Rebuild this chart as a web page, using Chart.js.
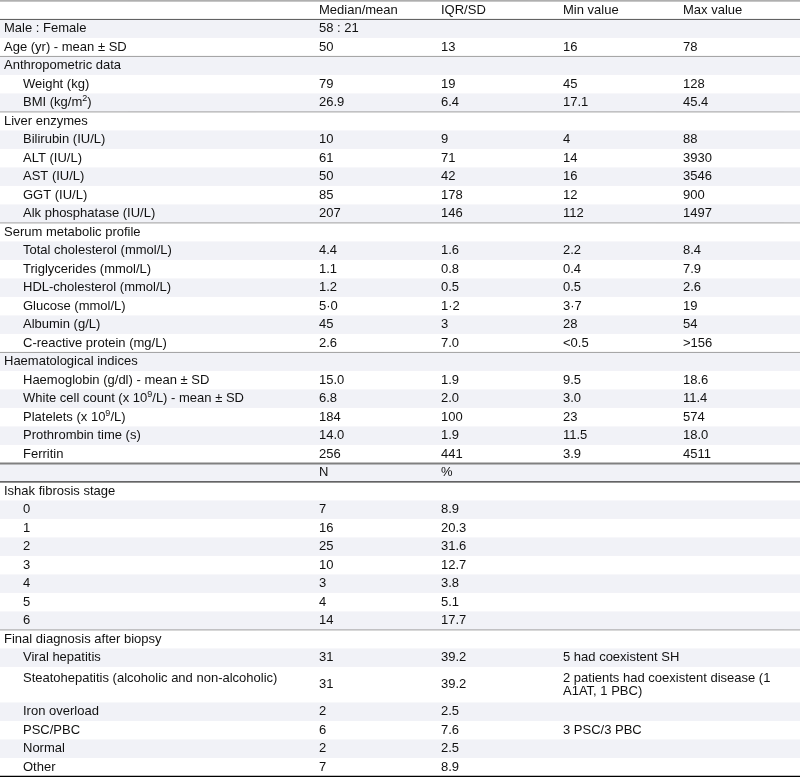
<!DOCTYPE html>
<html><head><meta charset="utf-8">
<script src="https://cdn.jsdelivr.net/npm/chart.js@4.4.1/dist/chart.umd.min.js"></script>
<style>html,body{margin:0;padding:0;background:#fff}#c{display:block}</style>
</head><body>
<canvas id="c" width="800" height="777"></canvas>
<script>
// ---------- DATA ----------
const rowLabels = [
  '', 'Male : Female', 'Age (yr) - mean ± SD',
  'Anthropometric data', 'Weight (kg)', 'BMI (kg/m^2)',
  'Liver enzymes', 'Bilirubin (IU/L)', 'ALT (IU/L)', 'AST (IU/L)', 'GGT (IU/L)', 'Alk phosphatase (IU/L)',
  'Serum metabolic profile', 'Total cholesterol (mmol/L)', 'Triglycerides (mmol/L)', 'HDL-cholesterol (mmol/L)',
  'Glucose (mmol/L)', 'Albumin (g/L)', 'C-reactive protein (mg/L)',
  'Haematological indices', 'Haemoglobin (g/dl) - mean ± SD', 'White cell count (x 10^9/L) - mean ± SD',
  'Platelets (x 10^9/L)', 'Prothrombin time (s)', 'Ferritin',
  '', 'Ishak fibrosis stage', '0', '1', '2', '3', '4', '5', '6',
  'Final diagnosis after biopsy', 'Viral hepatitis', 'Steatohepatitis (alcoholic and non-alcoholic)',
  'Iron overload', 'PSC/PBC', 'Normal', 'Other'
];
const rowKinds = [
  'head', 'top', 'top',
  'sec', 'item', 'item',
  'sec', 'item', 'item', 'item', 'item', 'item',
  'sec', 'item', 'item', 'item', 'item', 'item', 'item',
  'sec', 'item', 'item', 'item', 'item', 'item',
  'head', 'sec', 'item', 'item', 'item', 'item', 'item', 'item', 'item',
  'sec', 'item', 'item', 'item', 'item', 'item', 'item'
];
const colMedian = [
  'Median/mean', '58 : 21', '50',
  '', '79', '26.9',
  '', '10', '61', '50', '85', '207',
  '', '4.4', '1.1', '1.2', '5·0', '45', '2.6',
  '', '15.0', '6.8', '184', '14.0', '256',
  'N', '', '7', '16', '25', '10', '3', '4', '14',
  '', '31', '31', '2', '6', '2', '7'
];
const colIQR = [
  'IQR/SD', '', '13',
  '', '19', '6.4',
  '', '9', '71', '42', '178', '146',
  '', '1.6', '0.8', '0.5', '1·2', '3', '7.0',
  '', '1.9', '2.0', '100', '1.9', '441',
  '%', '', '8.9', '20.3', '31.6', '12.7', '3.8', '5.1', '17.7',
  '', '39.2', '39.2', '2.5', '7.6', '2.5', '8.9'
];
const colMin = [
  'Min value', '', '16',
  '', '45', '17.1',
  '', '4', '14', '16', '12', '112',
  '', '2.2', '0.4', '0.5', '3·7', '28', '<0.5',
  '', '9.5', '3.0', '23', '11.5', '3.9',
  '', '', '', '', '', '', '', '', '',
  '', '5 had coexistent SH', '2 patients had coexistent disease (1\nA1AT, 1 PBC)', '', '3 PSC/3 PBC', '', ''
];
const colMax = [
  'Max value', '', '78',
  '', '128', '45.4',
  '', '88', '3930', '3546', '900', '1497',
  '', '8.4', '7.9', '2.6', '19', '54', '>156',
  '', '18.6', '11.4', '574', '18.0', '4511',
  '', '', '', '', '', '', '', '', '',
  '', '', '', '', '', '', ''
];

// ---------- LAYOUT ----------
const COL_X = [4, 319, 441, 563, 683];
const INDENT_X = 23;
const TALL_ROW = 36, TALL_EXTRA = 0.92;
const rowTop = [];
const rowH = [];
(function(){ let t = 0; for (let i = 0; i < rowLabels.length; i++) { rowTop.push(t); const h = i === TALL_ROW ? 1 + TALL_EXTRA : 1; rowH.push(h); t += h; } rowTop.push(t); })();
const lines = [
  {row: 0, color: '#777', w: 1},
  {row: 1, color: '#555', w: 1},
  {row: 3, color: '#a0a0a0', w: 1},
  {row: 6, color: '#a0a0a0', w: 1},
  {row: 12, color: '#a0a0a0', w: 1},
  {row: 19, color: '#a0a0a0', w: 1},
  {row: 34, color: '#a0a0a0', w: 1},
  {row: 25, color: '#808080', w: 2},
  {row: 26, color: '#000', w: 1},
  {row: rowLabels.length, color: '#000', w: 1.5}
];
const STRIPE = '#f1f2f7';
const FONT = '"Liberation Sans", Arial, Helvetica, sans-serif';
const FS = 13, LINE_GAP = 0.7;

function cellY(i, c) {
  if (i === TALL_ROW) {
    const mid = rowTop[i] + rowH[i] / 2;
    if (c === 3) return mid - LINE_GAP / 2;
    if (c === 0) return mid - 0.33;
    return mid;
  }
  return rowTop[i] + 0.5;
}
const columns = [rowLabels, colMedian, colIQR, colMin, colMax];
const datasets = columns.map((col, c) => ({
  data: col.map((t, i) => ({x: c === 0 ? (rowKinds[i] === 'item' ? INDENT_X : COL_X[0]) : COL_X[c], y: cellY(i, c), t: t}))
            .filter(p => p.t !== ''),
  pointRadius: 0, pointHoverRadius: 0, showLine: false
}));

function drawRich(ctx, text, x, y) {
  const parts = text.split(/\^(.)/);
  let cx = x;
  for (let k = 0; k < parts.length; k++) {
    if (k % 2 === 0) {
      ctx.font = FS + 'px ' + FONT;
      ctx.fillText(parts[k], cx, y);
      cx += ctx.measureText(parts[k]).width;
    } else {
      ctx.font = '9px ' + FONT;
      ctx.fillText(parts[k], cx, y - 4);
      cx += ctx.measureText(parts[k]).width;
    }
  }
}

const tablePlugin = {
  id: 'tablePlugin',
  beforeDatasetsDraw(chart) {
    const ctx = chart.ctx, xs = chart.scales.x, ys = chart.scales.y;
    const xl = xs.getPixelForValue(xs.min), xr = xs.getPixelForValue(xs.max);
    ctx.save();
    ctx.fillStyle = STRIPE;
    for (let i = 0; i < rowLabels.length; i++) {
      if (i % 2 === 1) {
        const y0 = ys.getPixelForValue(rowTop[i]), y1 = ys.getPixelForValue(rowTop[i] + rowH[i]);
        ctx.fillRect(xl, y0, xr - xl, y1 - y0);
      }
    }
    lines.forEach(l => {
      const y = ys.getPixelForValue(rowTop[l.row]);
      ctx.strokeStyle = l.color; ctx.lineWidth = l.w;
      ctx.beginPath(); ctx.moveTo(xl, y); ctx.lineTo(xr, y); ctx.stroke();
    });
    ctx.restore();
  },
  afterDatasetsDraw(chart) {
    const ctx = chart.ctx, ys = chart.scales.y;
    const gap = ys.getPixelForValue(LINE_GAP) - ys.getPixelForValue(0);
    ctx.save();
    ctx.fillStyle = '#111';
    ctx.textBaseline = 'middle';
    ctx.textAlign = 'left';
    chart.data.datasets.forEach((ds, d) => {
      const meta = chart.getDatasetMeta(d);
      meta.data.forEach((el, j) => {
        const parts = ds.data[j].t.split('\n');
        parts.forEach((ln, k) => drawRich(ctx, ln, el.x, el.y + k * gap));
      });
    });
    ctx.restore();
  }
};

new Chart(document.getElementById('c'), {
  type: 'scatter',
  data: {datasets},
  options: {
    responsive: false, animation: false, devicePixelRatio: 1,
    layout: {padding: 0},
    events: [],
    plugins: {legend: {display: false}, tooltip: {enabled: false}},
    scales: {
      x: {type: 'linear', min: 0, max: 800, display: false},
      y: {type: 'linear', min: -0.05, max: -0.05 + 777 / 18.5, reverse: true, display: false}
    }
  },
  plugins: [tablePlugin]
});
</script>
</body></html>
